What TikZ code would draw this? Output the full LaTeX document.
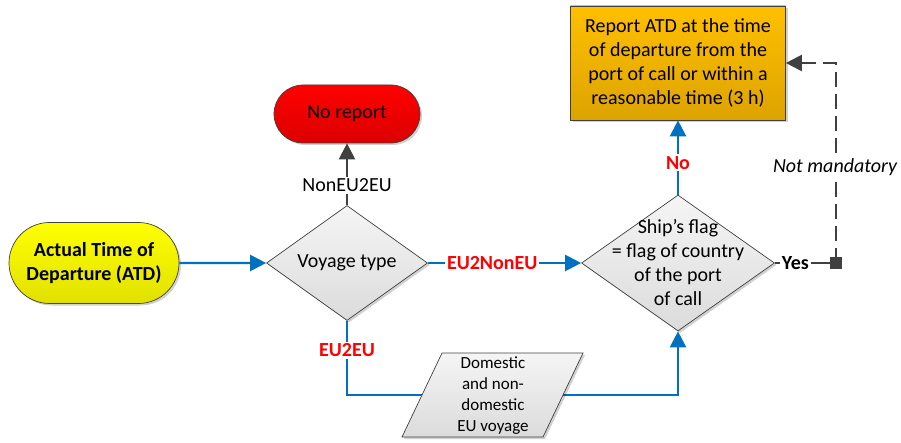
\documentclass[tikz,border=0pt]{standalone}
\usepackage{fontspec}
\setmainfont{Carlito}
\usetikzlibrary{arrows.meta,shapes.geometric,shapes.misc,shadows}
\definecolor{flowblue}{HTML}{0070C0}
\definecolor{darkline}{HTML}{404040}
\definecolor{labred}{HTML}{FF0000}
\definecolor{orangetop}{HTML}{FFC000}
\definecolor{orangebot}{HTML}{DDA300}
\begin{document}
\begin{tikzpicture}[x=1pt,y=-1pt,
  base/.style={draw=darkline, line width=0.7pt, inner sep=0pt,
    drop shadow={shadow xshift=2pt, shadow yshift=-2pt, fill=black, opacity=0.18}},
  term/.style={base, rounded rectangle},
  decide/.style={base, diamond, top color=white!96!black, bottom color=white!86!black},
  txt/.style={font=\fontsize{20}{24}\selectfont, align=center, inner sep=1pt},
  blueflow/.style={draw=flowblue, line width=2.3pt, -{Triangle[length=16pt,width=16pt]}},
  greyflow/.style={draw=darkline, line width=2.3pt, -{Triangle[length=16pt,width=16pt]}},
  redlab/.style={font=\fontsize{20}{24}\selectfont\bfseries, text=labred, fill=white, inner sep=2pt},
  plainlab/.style={font=\fontsize{20}{24}\selectfont, text=black, fill=white, inner sep=2pt}
]
\useasboundingbox (0,0) rectangle (901,443);

% nodes
\node[term, minimum width=172pt, minimum height=81pt, top color=yellow, bottom color=yellow!88!black,
  txt, font=\fontsize{20}{24}\selectfont\bfseries] (start) at (94,263) {Actual Time of\\Departure (ATD)};
\node[decide, minimum width=161pt, minimum height=115pt] (voy) at (347,263) {};
\node[txt] (voytxt) at (voy.center) {Voyage type};
\node[term, minimum width=148pt, minimum height=58pt, top color=red, bottom color=red!86!black, txt] (noreport) at (347,114) {No report};
\node[decide, minimum width=193pt, minimum height=136pt] (flag) at (678,263) {};
\node[txt] (flagtxt) at (flag.center) {Ship’s flag\\= flag of country\\of the port\\of call};
\node[base, rectangle, minimum width=215pt, minimum height=114pt, top color=orangetop, bottom color=orangebot] (report) at (678,63) {};
\node[txt] (reporttxt) at (report.center) {Report ATD at the time\\of departure from the\\port of call or within a\\reasonable time (3 h)};
\node[draw=darkline, fill=darkline, minimum size=11pt, inner sep=0pt] (sq) at (836,263) {};

% connectors
\draw[blueflow] (start) -- (voy);
\draw[blueflow] (voy) -- node[redlab, pos=0.42]{EU2NonEU} (flag);
\draw[greyflow] (voy) -- node[plainlab, pos=0.32]{NonEU2EU} (noreport);
\draw[blueflow] (flag) -- node[redlab, pos=0.43]{No} (report);
\draw[darkline, line width=2.3pt] (flag.east) -- node[font=\fontsize{20}{24}\selectfont\bfseries, text=black, fill=white, inner sep=2pt, pos=0.37]{Yes} (sq.west);
\draw[darkline, line width=2.3pt, dash pattern=on 15pt off 7pt, -{Triangle[length=16pt,width=16pt]}]
  (sq.center) -- (sq.center |- report.east) -- (report.east);
\node[font=\fontsize{20}{24}\selectfont\itshape, fill=white, inner sep=2pt] (notmand) at (835,167) {Not mandatory};

\coordinate (c1) at (347,395);
\coordinate (c2) at (678,395);
\draw[blueflow] (voy.south) -- node[redlab, pos=0.4]{EU2EU} (c1) -- (c2) -- (flag.south);

% parallelogram
\coordinate (p1) at (442,353);
\coordinate (p2) at (583,353);
\coordinate (p3) at (543,437);
\coordinate (p4) at (402,437);
\path[draw=darkline, line width=0.7pt, top color=white!96!black, bottom color=white!86!black,
  drop shadow={shadow xshift=2pt, shadow yshift=-2pt, fill=black, opacity=0.18}]
  (p1) -- (p2) -- (p3) -- (p4) -- cycle;
\node[font=\fontsize{17}{21}\selectfont, align=center] (domtxt) at (493,396) {Domestic\\and non-\\domestic\\EU voyage};
\end{tikzpicture}
\end{document}
